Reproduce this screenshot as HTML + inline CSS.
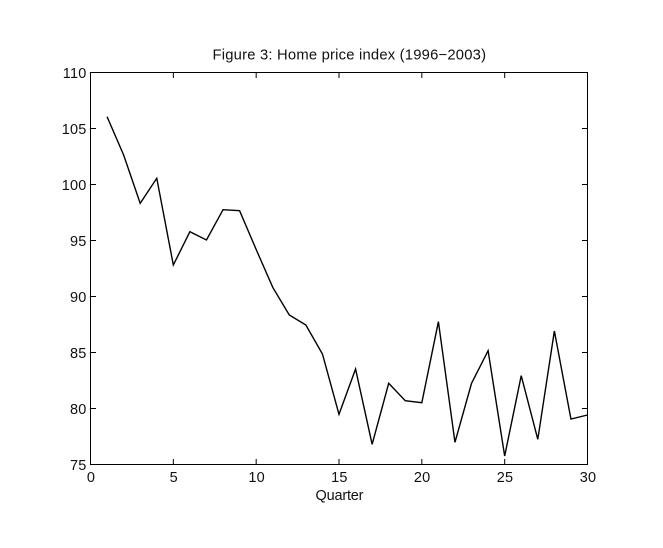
<!DOCTYPE html>
<html>
<head>
<meta charset="utf-8">
<style>
  html, body { margin: 0; padding: 0; background: #ffffff; }
  svg { display: block; }
  text { font-family: "Liberation Sans", Arial, sans-serif; fill: #111; }
</style>
</head>
<body>
<svg width="663" height="548" viewBox="0 0 663 548" xmlns="http://www.w3.org/2000/svg">
  <rect x="0" y="0" width="663" height="548" fill="#ffffff"/>

  <!-- Title -->
  <text x="212.5" y="59.5" font-size="14.8" textLength="273.5" lengthAdjust="spacing">Figure 3: Home price index (1996−2003)</text>

  <!-- Axes box -->
  <rect x="90.5" y="72.5" width="497" height="392" fill="none" stroke="#000" stroke-width="1"/>

  <!-- Ticks -->
  <g stroke="#000" stroke-width="1">
    <line x1="90.5" y1="464.5" x2="90.5" y2="459"/>
    <line x1="173.33" y1="464.5" x2="173.33" y2="459"/>
    <line x1="256.17" y1="464.5" x2="256.17" y2="459"/>
    <line x1="339" y1="464.5" x2="339" y2="459"/>
    <line x1="421.83" y1="464.5" x2="421.83" y2="459"/>
    <line x1="504.67" y1="464.5" x2="504.67" y2="459"/>
    <line x1="587.5" y1="464.5" x2="587.5" y2="459"/>

    <line x1="173.33" y1="72.5" x2="173.33" y2="78"/>
    <line x1="256.17" y1="72.5" x2="256.17" y2="78"/>
    <line x1="339" y1="72.5" x2="339" y2="78"/>
    <line x1="421.83" y1="72.5" x2="421.83" y2="78"/>
    <line x1="504.67" y1="72.5" x2="504.67" y2="78"/>

    <line x1="90.5" y1="128.5" x2="96" y2="128.5"/>
    <line x1="90.5" y1="184.5" x2="96" y2="184.5"/>
    <line x1="90.5" y1="240.5" x2="96" y2="240.5"/>
    <line x1="90.5" y1="296.5" x2="96" y2="296.5"/>
    <line x1="90.5" y1="352.5" x2="96" y2="352.5"/>
    <line x1="90.5" y1="408.5" x2="96" y2="408.5"/>

    <line x1="587.5" y1="128.5" x2="582" y2="128.5"/>
    <line x1="587.5" y1="184.5" x2="582" y2="184.5"/>
    <line x1="587.5" y1="240.5" x2="582" y2="240.5"/>
    <line x1="587.5" y1="296.5" x2="582" y2="296.5"/>
    <line x1="587.5" y1="352.5" x2="582" y2="352.5"/>
    <line x1="587.5" y1="408.5" x2="582" y2="408.5"/>
  </g>

  <!-- Y tick labels -->
  <g font-size="14.5" text-anchor="end" letter-spacing="0.2">
    <text x="86.5" y="77.8">110</text>
    <text x="86.5" y="133.8">105</text>
    <text x="86.5" y="189.8">100</text>
    <text x="86.5" y="245.8">95</text>
    <text x="86.5" y="301.8">90</text>
    <text x="86.5" y="357.8">85</text>
    <text x="86.5" y="413.8">80</text>
    <text x="86.5" y="469.8">75</text>
  </g>

  <!-- X tick labels -->
  <g font-size="14.5" text-anchor="middle" letter-spacing="0.2">
    <text x="91" y="482.2">0</text>
    <text x="173.8" y="482.2">5</text>
    <text x="256.6" y="482.2">10</text>
    <text x="339.4" y="482.2">15</text>
    <text x="422.2" y="482.2">20</text>
    <text x="505" y="482.2">25</text>
    <text x="588" y="482.2">30</text>
  </g>

  <!-- X axis label -->
  <text x="315.5" y="500.2" font-size="14.5" textLength="48" lengthAdjust="spacing">Quarter</text>

  <!-- Data series -->
  <polyline fill="none" stroke="#000" stroke-width="1.4" stroke-linejoin="miter"
    points="107.07,116.7 123.63,155 140.2,203.3 156.77,178.3 173.33,265 189.9,231.7 206.47,240 223.03,209.7 239.6,210.7 256.17,249.5 272.73,287.3 289.3,315 305.87,325 322.43,354 339,414.3 355.57,369 372.13,444.3 388.7,383.3 405.27,400.7 421.83,402.7 438.4,321.7 454.97,442.3 471.53,383.3 488.1,350.7 504.67,456 521.23,375.7 537.8,439.3 554.37,331 570.93,419 587.5,415"/>
</svg>
</body>
</html>
